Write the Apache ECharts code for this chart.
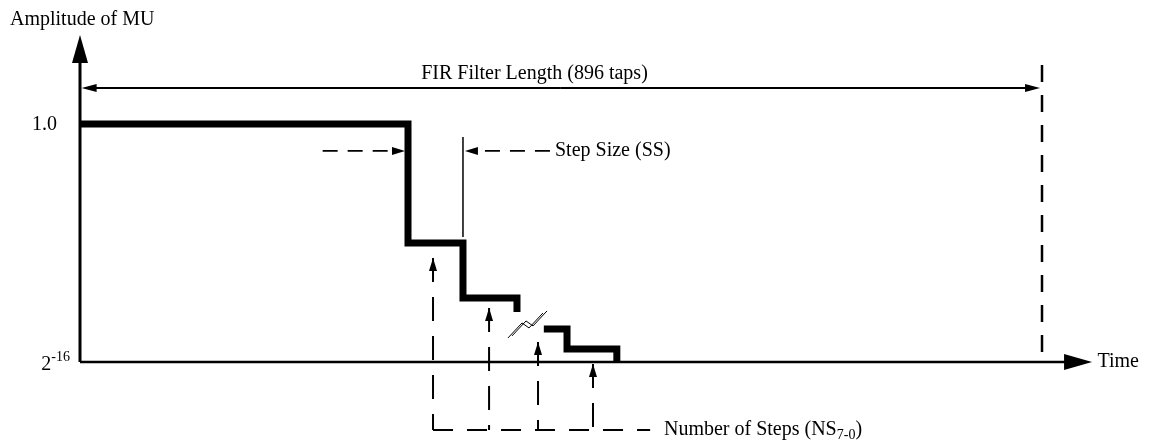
<!DOCTYPE html>
<html><head><meta charset="utf-8">
<script src="https://cdn.jsdelivr.net/npm/echarts@6/dist/echarts.min.js"></script>
<style>html,body{margin:0;padding:0;background:#fff}#c{width:1153px;height:443px}</style>
</head><body><div id="c"></div>
<script>
// ---------------- data (x: filter taps, y: relative amplitude level, 1 = 1.0, 0 = 2^-16) ----------------
const filterTaps = 896;
const stepEdgesA = [0, 305.5, 356.7, 407];
const stepLevelsA = [1, 0.5, 0.269, 0.21];
const stepEdgesB = [432, 453.6, 500];
const stepLevelsB = [0.139, 0.055, 0];
const yTickValues = [1, 0];
const yTickLabels = ['1.0', '2^{-16}'];
const axisEnds = [942.6, 1.374];           // x-axis end (taps), y-axis end (level)
const firArrowX = [1.5, 894.2];
const firLevel = 1.151;
const firDashTop = 1.248;
const ssLevel = 0.887;
const ssMarkerX = 356.7;
const ssMarkerY = [0.525, 0.945];
const ssLeftArrowX = [226, 302.7];
const ssRightArrowX = [437.7, 358.5];
const nsArrowX = [328.8, 381, 426.6, 477.8];
const nsArrowTipY = [0.437, 0.227, 0.084, -0.008];
const nsBaseLevel = -0.286;
const nsBaseEndX = 531;
const breakX = [398.6, 411.7, 418.2, 431.2];
const breakY = [0.101, 0.164, 0.143, 0.206];
const texts = {
  yTitle: 'Amplitude of MU',
  xTitle: 'Time',
  fir: 'FIR Filter Length (896 taps)',
  ss: 'Step Size (SS)',
  ns: 'Number of Steps (NS_{7-0})'
};

// ---------------- helpers ----------------
const FONT = '"Liberation Serif", "Times New Roman", serif';
const mctx = document.createElement('canvas').getContext('2d');
function measure(t, size) { mctx.font = size + 'px ' + FONT; return mctx.measureText(t).width; }
function parseRich(s) {
  const out = []; const re = /([_^])\{([^}]*)\}/g; let last = 0, m;
  while ((m = re.exec(s))) {
    if (m.index > last) out.push({ t: s.slice(last, m.index), k: 'n' });
    out.push({ t: m[2], k: m[1] === '^' ? 'sup' : 'sub' });
    last = re.lastIndex;
  }
  if (last < s.length) out.push({ t: s.slice(last), k: 'n' });
  return out;
}

function renderAll(params, api) {
  const P = (x, y) => api.coord([x, y]);
  const ch = [];
  const line = (a, b, w, dash, cap) => ch.push({ type: 'line', shape: { x1: a[0], y1: a[1], x2: b[0], y2: b[1] },
    style: { stroke: '#000', lineWidth: w, lineDash: dash || null, lineCap: cap || 'butt', fill: null } });
  const head = (tip, from, len, half) => {
    const dx = tip[0] - from[0], dy = tip[1] - from[1], L = Math.hypot(dx, dy) || 1;
    const ux = dx / L, uy = dy / L, bx = tip[0] - ux * len, by = tip[1] - uy * len;
    ch.push({ type: 'polygon', shape: { points: [tip, [bx - uy * half, by + ux * half], [bx + uy * half, by - ux * half]] },
      style: { fill: '#000' } });
    return [tip[0] - ux * len * 0.7, tip[1] - uy * len * 0.7];
  };
  const arrow = (from, tip, w, dash, len, half) => { const e = head(tip, from, len, half); line(from, e, w, dash); };
  const text = (px, str, align, size) => {
    size = size || 20;
    const segs = parseRich(str);
    const sz = s => s.k === 'n' ? size : 14;
    const total = segs.reduce((a, s) => a + measure(s.t, sz(s)), 0);
    let x = align === 'right' ? px[0] - total : align === 'center' ? px[0] - total / 2 : px[0];
    segs.forEach(s => {
      const dy = s.k === 'sup' ? -8 : s.k === 'sub' ? 5 : 0;
      ch.push({ type: 'text', x: x, y: px[1] + dy,
        style: { text: s.t, font: sz(s) + 'px ' + FONT, fill: '#000', align: 'left', verticalAlign: 'middle' } });
      x += measure(s.t, sz(s));
    });
  };

  // axes
  const o = P(0, 0);
  arrow(o, P(0, axisEnds[1]), 3, null, 28, 8);
  arrow(o, P(axisEnds[0], 0), 2.5, null, 28, 8);
  // FIR length arrow + dashed end marker
  const fa = P(firArrowX[0], firLevel), fb = P(firArrowX[1], firLevel);
  const fm = [(fa[0] + fb[0]) / 2, fa[1]];
  arrow(fm, fa, 2, null, 15, 4); arrow(fm, fb, 2, null, 15, 4);
  line(P(filterTaps, firDashTop), P(filterTaps, 0), 2.5, [17, 13]);
  // Step size annotation
  line(P(ssMarkerX, ssMarkerY[0]), P(ssMarkerX, ssMarkerY[1]), 1.5);
  arrow(P(ssLeftArrowX[0], ssLevel), P(ssLeftArrowX[1], ssLevel), 1.8, [15, 10], 13, 4);
  arrow(P(ssRightArrowX[0], ssLevel), P(ssRightArrowX[1], ssLevel), 1.8, [15, 10], 13, 4);
  // Number of steps annotation
  nsArrowX.forEach((x, i) => {
    const tip = P(x, nsArrowTipY[i]), base = P(x, nsBaseLevel);
    head(tip, base, 13, 4);
    line(tip, base, 2, [24, 15]);
  });
  line(P(nsArrowX[0], nsBaseLevel), P(nsBaseEndX, nsBaseLevel), 2, [20, 14]);
  // break symbol
  const bp = breakX.map((x, i) => P(x, breakY[i]));
  ch.push({ type: 'polyline', shape: { points: bp }, style: { stroke: '#000', lineWidth: 1, fill: null } });
  ch.push({ type: 'polyline', shape: { points: bp.map(p => [p[0] + 4, p[1] - 2]) }, style: { stroke: '#000', lineWidth: 1, fill: null } });
  // texts
  text([o[0] - 70, P(0, 1.437)[1]], texts.yTitle, 'left');
  const tickDx = [23, 10], tickDy = [1, 3];
  yTickValues.forEach((v, i) => { const p = P(0, v); text([p[0] - tickDx[i], p[1] + tickDy[i]], yTickLabels[i], 'right'); });
  text(P(423.3, 1.21), texts.fir, 'center');
  text(P(442.4, ssLevel), texts.ss, 'left');
  text(P(543.9, nsBaseLevel), texts.ns, 'left');
  text(P(axisEnds[0] + 5, 0), texts.xTitle, 'left');
  return { type: 'group', children: ch };
}

const chart = echarts.init(document.getElementById('c'), null, { renderer: 'canvas' });
chart.setOption({
  animation: false,
  backgroundColor: '#fff',
  grid: { left: 80, right: 4.7, top: 5, bottom: 2.46 },
  xAxis: { type: 'value', min: 0, max: 995, show: false },
  yAxis: { type: 'value', min: -0.33, max: 1.5, show: false },
  series: [
    { type: 'line', data: stepEdgesA.map((x, i) => [x, stepLevelsA[i]]), step: 'end', symbol: 'none', silent: true,
      clip: false, lineStyle: { color: '#000', width: 7, cap: 'butt', join: 'miter' } },
    { type: 'line', data: stepEdgesB.map((x, i) => [x, stepLevelsB[i]]), step: 'end', symbol: 'none', silent: true,
      clip: false, lineStyle: { color: '#000', width: 7, cap: 'butt', join: 'miter' } },
    { type: 'custom', data: [[0, 0]], renderItem: renderAll, silent: true, clip: false, z: 5 }
  ]
});
</script></body></html>
